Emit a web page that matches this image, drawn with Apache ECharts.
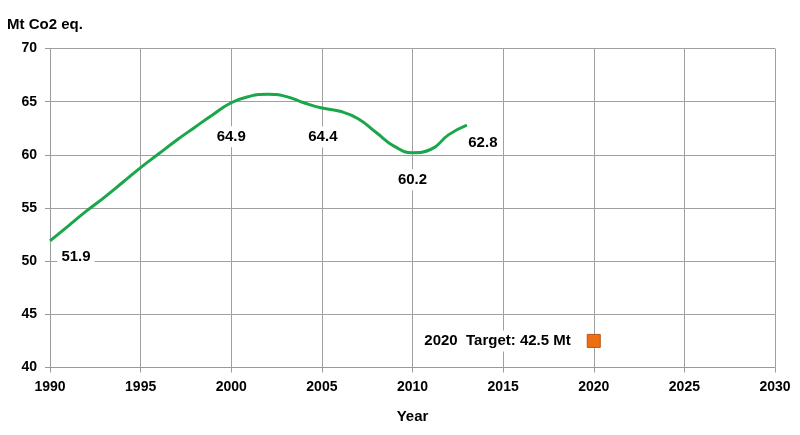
<!DOCTYPE html>
<html>
<head>
<meta charset="utf-8">
<script src="https://cdn.jsdelivr.net/npm/echarts@6/dist/echarts.min.js"></script>
<style>html,body{margin:0;padding:0;background:#fff;}#c{width:800px;height:435px;}</style>
</head>
<body>
<div id="c"></div>
<script>
var years = [1990,1991,1992,1993,1994,1995,1996,1997,1998,1999,2000,2001,2002,2003,2004,2005,2006,2007,2008,2009,2010,2011,2012,2013];
var emissions = [51.9,53.3,54.7,56.0,57.4,58.8,60.1,61.4,62.6,63.8,64.9,65.5,65.7,65.5,64.9,64.4,64.1,63.4,62.1,60.8,60.2,60.5,61.9,62.8];
var labelYears = [1990,2000,2005,2010,2013];
var labelValues = [51.9,64.9,64.4,60.2,62.8];
var targetYear = [2020];
var targetValue = [42.5];
var targetText = '2020  Target: 42.5 Mt';
var yTicks = [40,45,50,55,60,65,70];
var xTicks = [1990,1995,2000,2005,2010,2015,2020,2025,2030];

var labelOffsets = {1990:[26,16],2000:[0,34],2005:[1,29],2010:[0,27],2013:[16,18]};
var FONT = '"Liberation Sans", Arial, sans-serif';
var chart = echarts.init(document.getElementById('c'));
var lineData = years.map(function(y,i){return [y, emissions[i]];});
var lblData = labelYears.map(function(y,i){
  return {value:[y, labelValues[i]], label:{offset: labelOffsets[y]}};
});
var tgtData = targetYear.map(function(y,i){return [y, targetValue[i]];});

chart.setOption({
  animation:false,
  backgroundColor:'#fff',
  grid:{left:50, right:25, top:48.5, bottom:67.5},
  graphic:[{type:'text', left:7, top:17, style:{text:'Mt Co2 eq.', font:'bold 15px '+FONT, fill:'#000'}}],
  xAxis:{
    type:'value', min:xTicks[0], max:xTicks[xTicks.length-1], interval:5,
    name:'Year', nameLocation:'middle', nameGap:42,
    nameTextStyle:{fontFamily:FONT, fontWeight:'bold', fontSize:15, color:'#000'},
    axisLine:{show:true, lineStyle:{color:'#9a9a9a', width:1}},
    axisTick:{show:true, length:5, lineStyle:{color:'#9a9a9a'}},
    axisLabel:{fontFamily:FONT, fontWeight:'bold', fontSize:14, color:'#000', margin:13,
      formatter:function(v){return String(v);}},
    splitLine:{show:true, lineStyle:{color:'#a0a0a0', width:1}}
  },
  yAxis:{
    type:'value', min:yTicks[0], max:yTicks[yTicks.length-1], interval:5,
    axisLine:{show:true, lineStyle:{color:'#9a9a9a', width:1}},
    axisTick:{show:true, length:5, lineStyle:{color:'#9a9a9a'}},
    axisLabel:{fontFamily:FONT, fontWeight:'bold', fontSize:14, color:'#000', margin:13},
    splitLine:{show:true, lineStyle:{color:'#a0a0a0', width:1}}
  },
  series:[
    {type:'line', data:lineData, smooth:0.5, showSymbol:false, symbol:'none',
     lineStyle:{color:'#1aa64a', width:3}, z:3},
    {type:'scatter', data:lblData, symbolSize:0, z:4, itemStyle:{opacity:1},
     label:{show:true, position:'inside', formatter:function(p){return p.value[1].toFixed(1);},
       fontFamily:FONT, fontWeight:'bold', fontSize:15, color:'#000', opacity:1,
       backgroundColor:'#fff', padding:[3,4]}},
    {type:'scatter', data:tgtData, symbol:'rect', symbolSize:13, z:5,
     itemStyle:{color:'#ef6e12', borderColor:'#b4561e', borderWidth:1, opacity:1},
     label:{show:true, position:'left', distance:12, formatter:targetText,
       fontFamily:FONT, fontWeight:'bold', fontSize:15, color:'#000', opacity:1,
       backgroundColor:'#fff', padding:[3,4]}}
  ]
});
</script>
</body>
</html>
